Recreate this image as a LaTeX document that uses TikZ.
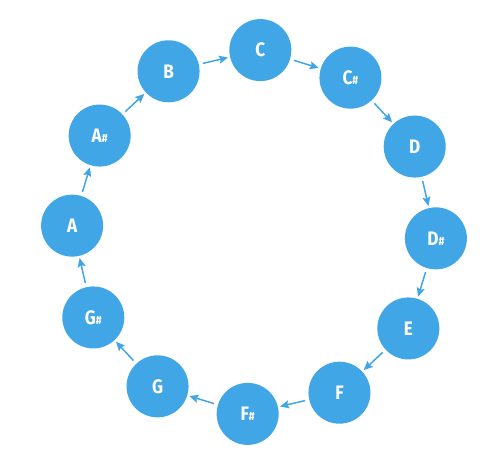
\documentclass[tikz,border=0pt]{standalone}
\usepackage{fontspec}
\setmainfont{Fira Sans}[FakeStretch=0.88]
\usetikzlibrary{arrows.meta, positioning}
\definecolor{noteblue}{RGB}{64,166,229}
\tikzset{
  note/.style={circle, fill=noteblue, minimum size=62pt, inner sep=0pt,
    text=white, font=\fontsize{19.5}{21}\selectfont\bfseries},
  arrow/.style={-{Stealth[length=9pt, width=8pt, inset=1.5pt]}, line width=1.5pt,
    color=noteblue, shorten <=4pt, shorten >=2pt},
}
\newcommand{\sharpsym}{{\fontsize{12}{13}\selectfont\#}}

\begin{document}
\begin{tikzpicture}[x=1pt, y=1pt]
  \useasboundingbox (0,0) rectangle (500,468);
  \coordinate (ctr) at (254,236);

  \node[note] (c)  at ([shift={(88:182)}]ctr)  {C};
  \node[note] (cs) at ([shift={(58:182)}]ctr)  {C\sharpsym};
  \node[note] (d)  at ([shift={(28:182)}]ctr)  {D};
  \node[note] (ds) at ([shift={(-2:182)}]ctr)  {D\sharpsym};
  \node[note] (e)  at ([shift={(-32:182)}]ctr) {E};
  \node[note] (f)  at ([shift={(-62:182)}]ctr) {F};
  \node[note] (fs) at ([shift={(-92:182)}]ctr) {F\sharpsym};
  \node[note] (g)  at ([shift={(-122:182)}]ctr) {G};
  \node[note] (gs) at ([shift={(-152:182)}]ctr) {G\sharpsym};
  \node[note] (a)  at ([shift={(178:182)}]ctr) {A};
  \node[note] (as) at ([shift={(148:182)}]ctr) {A\sharpsym};
  \node[note] (b)  at ([shift={(118:182)}]ctr) {B};

  \draw[arrow](c)--(cs);
  \draw[arrow](cs)--(d);
  \draw[arrow](d)--(ds);
  \draw[arrow](ds)--(e);
  \draw[arrow](e)--(f);
  \draw[arrow](f)--(fs);
  \draw[arrow](fs)--(g);
  \draw[arrow](g)--(gs);
  \draw[arrow](gs)--(a);
  \draw[arrow](a)--(as);
  \draw[arrow](as)--(b);
  \draw[arrow](b)--(c);
\end{tikzpicture}
\end{document}
